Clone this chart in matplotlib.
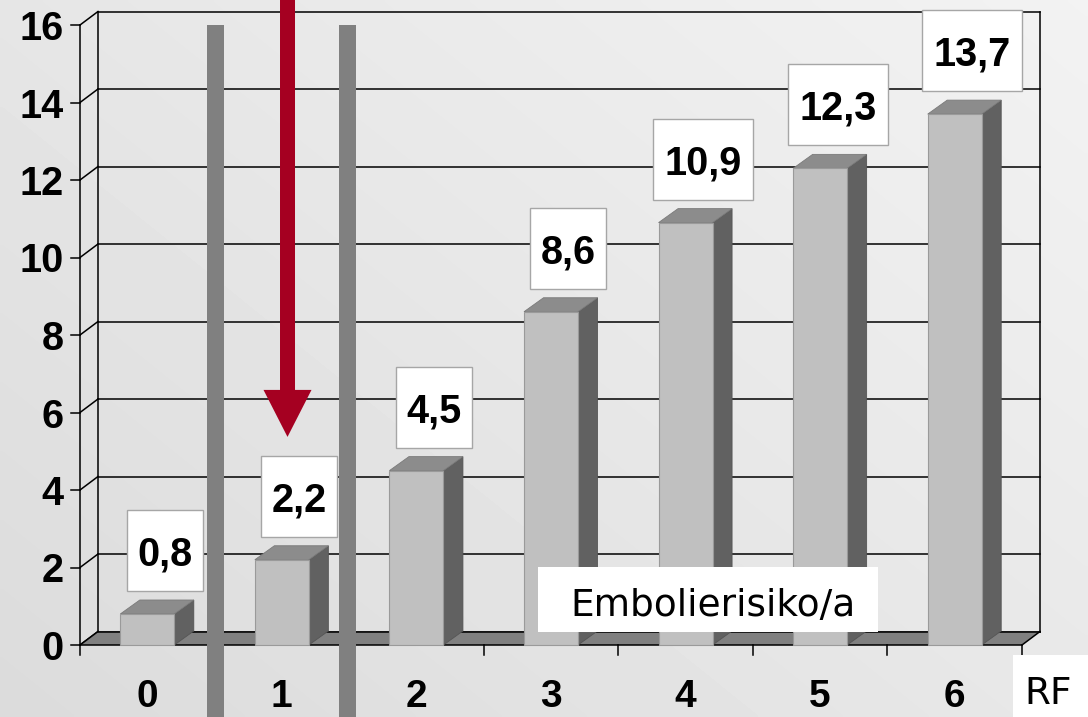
import numpy as np
import matplotlib
matplotlib.use("Agg")
import matplotlib.pyplot as plt
from matplotlib.patches import Rectangle, Polygon, FancyArrow

# ---- data ----
categories = ["0", "1", "2", "3", "4", "5", "6"]
values = [0.8, 2.2, 4.5, 8.6, 10.9, 12.3, 13.7]
value_labels = ["0,8", "2,2", "4,5", "8,6", "10,9", "12,3", "13,7"]
y_ticks = [0, 2, 4, 6, 8, 10, 12, 14, 16]
y_tick_labels = ["0", "2", "4", "6", "8", "10", "12", "14", "16"]
series_label = "Embolierisiko/a"
x_title = "RF"
separators = [0.507, 1.488]      # grey divider positions (category units)
arrow_x = 1.042                   # red arrow position
arrow_tip = 5.37

# ---- geometry / style ----
W, H = 1088, 717
fig = plt.figure(figsize=(W / 100, H / 100), dpi=100)
ax = fig.add_axes([0, 0, 1, 1])
px_x = 134.57   # pixels per category
px_y = 38.75    # pixels per value unit
x0_px, y0_px = 80, 645
xlim = (-0.5 - x0_px / px_x, -0.5 + (W - x0_px) / px_x)
ylim = (-(H - y0_px) / px_y, y0_px / px_y)
ax.set_xlim(*xlim)
ax.set_ylim(*ylim)
ax.axis("off")

n = len(categories)
xa, xb = -0.5, n - 0.5
ymax = 16
DX, DY = 18 / px_x, 13.5 / px_y          # wall depth
BDX, BDY = 19.5 / px_x, 14 / px_y         # bar depth
BW = 54 / px_x                            # bar front width

# background gradient
gx, gy = np.meshgrid(np.linspace(0, 1, 200), np.linspace(0, 1, 200))
grad = 0.86 + 0.09 * (0.55 * gx + 0.45 * gy)
ax.imshow(grad, extent=[xlim[0], xlim[1], ylim[1], ylim[0]], cmap="gray",
          vmin=0, vmax=1, aspect="auto", zorder=0, interpolation="bilinear")

lc = "black"
lw = 1.1
# back wall gridlines and side-wall diagonals
for t in y_ticks:
    ax.plot([xa + DX, xb + DX], [t + DY, t + DY], color=lc, lw=lw, zorder=1)
    ax.plot([xa, xa + DX], [t, t + DY], color=lc, lw=lw, zorder=1)
    ax.plot([xa - 0.07, xa], [t, t], color=lc, lw=lw, zorder=1)
ax.plot([xa + DX, xa + DX], [DY, ymax + DY], color=lc, lw=lw, zorder=1)
ax.plot([xb + DX, xb + DX], [DY, ymax + DY], color=lc, lw=lw, zorder=1)
ax.plot([xa, xa], [0, ymax], color=lc, lw=lw, zorder=1)

# floor
ax.add_patch(Polygon([[xa, 0], [xb, 0], [xb + DX, DY], [xa + DX, DY]],
                     closed=True, facecolor="#808080", edgecolor="none", zorder=2))
ax.plot([xa + DX, xb + DX], [DY, DY], color=lc, lw=lw, zorder=2)
ax.plot([xa, xb], [0, 0], color=lc, lw=lw, zorder=2)
ax.plot([xb, xb + DX], [0, DY], color=lc, lw=lw, zorder=2)
ax.plot([xa, xa + DX], [0, DY], color=lc, lw=lw, zorder=2)
for b in np.arange(xa, xb + 0.01, 1.0):
    ax.plot([b, b], [0, -0.26], color=lc, lw=lw, zorder=2)

# bars
for i, v in enumerate(values):
    l, r = i - BW / 2, i + BW / 2
    ax.add_patch(Polygon([[r, 0], [r + BDX, BDY], [r + BDX, v + BDY], [r, v]],
                         closed=True, facecolor="#616161", edgecolor="#555555",
                         lw=0.6, zorder=3))
    ax.add_patch(Polygon([[l, v], [r, v], [r + BDX, v + BDY], [l + BDX, v + BDY]],
                         closed=True, facecolor="#8c8c8c", edgecolor="#7a7a7a",
                         lw=0.6, zorder=3))
    ax.add_patch(Rectangle((l, 0), BW, v, facecolor="#c0c0c0",
                           edgecolor="#9a9a9a", lw=0.8, zorder=3))

# value labels with white boxes
box_h = 81 / px_y
for i, (v, s) in enumerate(zip(values, value_labels)):
    cx, cy = i + 0.13, v + 1.64
    bw = (76 if len(s) == 3 else 100) / px_x
    ax.add_patch(Rectangle((cx - bw / 2, cy - box_h / 2), bw, box_h,
                           facecolor="white", edgecolor="#a6a6a6", lw=1.0, zorder=5))
    ax.text(cx, cy, s, ha="center", va="center_baseline", fontsize=28.5,
            fontweight="bold", family="Liberation Sans", zorder=6)

# y tick labels
for t, s in zip(y_ticks, y_tick_labels):
    ax.text(xa - 0.12, t, s, ha="right", va="center_baseline", fontsize=28.5,
            fontweight="bold", family="Liberation Sans", zorder=6)

# x tick labels
for i, s in enumerate(categories):
    ax.text(i, -1.25, s, ha="center", va="center_baseline", fontsize=28,
            fontweight="bold", family="Liberation Sans", zorder=6)

# series label box
sx0, sx1 = (538 - x0_px) / px_x - 0.5, (878 - x0_px) / px_x - 0.5
sy0, sy1 = (y0_px - 632) / px_y, (y0_px - 567) / px_y
ax.add_patch(Rectangle((sx0, sy0), sx1 - sx0, sy1 - sy0, facecolor="white",
                       edgecolor="none", zorder=5))
ax.text((sx0 + sx1) / 2 + 0.04, (sy0 + sy1) / 2 - 0.06, series_label,
        ha="center", va="center_baseline", fontsize=27, family="DejaVu Sans", zorder=6)

# RF box
rx0 = (1013 - x0_px) / px_x - 0.5
ry1 = (y0_px - 655) / px_y
ax.add_patch(Rectangle((rx0, ylim[0] - 0.1), xlim[1] - rx0 + 0.1, ry1 - ylim[0] + 0.1,
                       facecolor="white", edgecolor="none", zorder=5))
ax.text((rx0 + xlim[1]) / 2 - 0.02, (y0_px - 690) / px_y, x_title, ha="center",
        va="center_baseline", fontsize=27, family="DejaVu Sans", zorder=6)

# grey dividers
sep_w = 16.5 / px_x
for sx in separators:
    ax.add_patch(Rectangle((sx - sep_w / 2, ylim[0] - 0.5), sep_w, ymax - ylim[0] + 0.5,
                           facecolor="#808080", edgecolor="none", zorder=7))

# red arrow
top = ylim[1] + 0.5
ax.add_patch(FancyArrow(arrow_x, top, 0, arrow_tip - top, width=15 / px_x,
                        head_width=48 / px_x, head_length=47 / px_y,
                        length_includes_head=True, facecolor="#a50021",
                        edgecolor="none", zorder=8))

fig.savefig("out.png", dpi=100)
